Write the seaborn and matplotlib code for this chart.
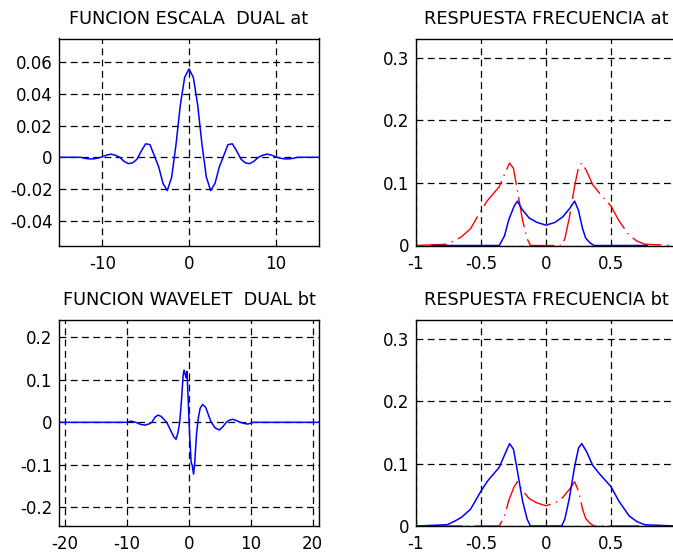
import matplotlib
matplotlib.use("Agg")
import matplotlib.pyplot as plt
import pandas as pd
import seaborn as sns

# Dual scaling function samples
scale_t = [-15, -12.5, -12, -11.5, -11, -10.5, -10, -9.5, -9, -8.5, -8, -7.5, -7, -6.5, -6,
           -5.5, -5, -4.5, -4, -3.5, -3, -2.5, -2, -1.5, -1, -0.5, 0, 0.5, 1, 1.5, 2, 2.5,
           3, 3.5, 4, 4.5, 5, 5.5, 6, 6.5, 7, 7.5, 8, 8.5, 9, 9.5, 10, 10.5, 11, 11.5, 12,
           12.5, 15]
scale_v = [0, 0, -0.0007, -0.001, -0.001, -0.0005, 0.0003, 0.0014, 0.002, 0.0013, 0.0,
           -0.0025, -0.004, -0.0035, -0.0012, 0.004, 0.0085, 0.008, 0.001, -0.006, -0.0165,
           -0.021, -0.0125, 0.008, 0.033, 0.0505, 0.0558, 0.0505, 0.033, 0.008, -0.0125,
           -0.021, -0.0165, -0.006, 0.001, 0.008, 0.0085, 0.004, -0.0012, -0.0035, -0.004,
           -0.0025, 0.0, 0.0013, 0.002, 0.0014, 0.0003, -0.0005, -0.001, -0.001, -0.0007,
           0, 0]

# Dual wavelet samples
wave_t = [-21, -10, -9.4, -8.6, -7.8, -7.1, -6.5, -6.0, -5.5, -5.0, -4.5, -4.0, -3.6, -3.0,
          -2.5, -2.1, -1.8, -1.5, -1.2, -0.95, -0.8, -0.6, -0.45, -0.33, -0.15, 0.1, 0.35,
          0.5, 0.74, 0.95, 1.2, 1.5, 1.8, 2.2, 2.7, 3.2, 3.6, 4.2, 4.9, 5.5, 6.0, 6.5, 7.07,
          7.7, 8.3, 9.0, 9.5, 10.0, 10.3, 21]
wave_v = [0, 0, 0.003, 0.0, -0.005, -0.0065, -0.004, 0.0, 0.012, 0.017, 0.014, 0.006, 0.0,
          -0.018, -0.033, -0.04, -0.025, 0.0, 0.055, 0.11, 0.123, 0.112, 0.105, 0.12, 0.06,
          -0.03, -0.095, -0.1, -0.122, -0.09, -0.03, 0.01, 0.033, 0.042, 0.035, 0.015, 0.0,
          -0.013, -0.018, -0.01, 0.0, 0.005, 0.007, 0.004, 0.0, -0.003, -0.004, -0.002, 0,
          0]

# Magnitude spectrum of at
spec_at_f = [-0.88, -0.36, -0.32, -0.285, -0.245, -0.22, -0.185, -0.13, -0.07, 0, 0.07,
             0.13, 0.185, 0.22, 0.25, 0.28, 0.305, 0.34, 0.37, 0.78]
spec_at_m = [0, 0, 0.015, 0.042, 0.063, 0.071, 0.058, 0.044, 0.037, 0.0325, 0.037, 0.046,
             0.06, 0.071, 0.056, 0.028, 0.012, 0.004, 0, 0]

# Magnitude spectrum of bt
spec_bt_f = [-1.0, -0.76, -0.7, -0.65, -0.58, -0.5, -0.45, -0.36, -0.31, -0.28, -0.25,
             -0.22, -0.18, -0.145, -0.12, 0.12, 0.145, 0.18, 0.22, 0.25, 0.275, 0.31, 0.36,
             0.41, 0.5, 0.56, 0.64, 0.7, 0.76, 1.0]
spec_bt_m = [0, 0.002, 0.008, 0.014, 0.027, 0.056, 0.072, 0.094, 0.118, 0.132, 0.123, 0.088,
             0.04, 0.011, 0, 0, 0.011, 0.045, 0.095, 0.125, 0.132, 0.12, 0.097, 0.084, 0.063,
             0.04, 0.016, 0.007, 0.002, 0]

titles = ["FUNCION ESCALA  DUAL at", "RESPUESTA FRECUENCIA at",
          "FUNCION WAVELET  DUAL bt", "RESPUESTA FRECUENCIA bt"]

scale_xticks = [-10, 0, 10]
scale_yticks = [-0.04, -0.02, 0, 0.02, 0.04, 0.06]
scale_yticklabels = ["-0.04", "-0.02", "0", "0.02", "0.04", "0.06"]
wave_xticks = [-20, -10, 0, 10, 20]
wave_yticks = [-0.2, -0.1, 0, 0.1, 0.2]
wave_yticklabels = ["-0.2", "-0.1", "0", "0.1", "0.2"]
freq_xticks = [-1, -0.5, 0, 0.5, 1]
freq_xticklabels = ["-1", "-0.5", "0", "0.5", "1"]
freq_yticks = [0, 0.1, 0.2, 0.3]
freq_yticklabels = ["0", "0.1", "0.2", "0.3"]

sns.set_style("white")
plt.rcParams["font.family"] = ["DejaVu Sans"]
plt.rcParams["axes.unicode_minus"] = False
plt.rcParams["axes.edgecolor"] = "black"
plt.rcParams["axes.linewidth"] = 1.0

W, H = 673, 552
fig = plt.figure(figsize=(W / 100, H / 100), dpi=100, facecolor="white")


def place(l, t, r, b):
    return fig.add_axes([l / W, 1 - b / H, (r - l) / W, (b - t) / H])


ax_sc = place(59, 38.5, 319, 245.5)
ax_fa = place(416, 38.5, 676, 245.5)
ax_wv = place(59, 319.5, 319, 526)
ax_fb = place(416, 319.5, 676, 526)

BLUE = "#0000ff"
RED = "#ff0000"
DASHDOT = (0, (22, 4, 1, 4))

df_sc = pd.DataFrame({"t": scale_t, "v": scale_v})
df_wv = pd.DataFrame({"t": wave_t, "v": wave_v})
df_a = pd.DataFrame({"f": spec_at_f, "m": spec_at_m})
df_b = pd.DataFrame({"f": spec_bt_f, "m": spec_bt_m})

sns.lineplot(data=df_sc, x="t", y="v", ax=ax_sc, color=BLUE, lw=1.1,
             estimator=None, sort=False)
sns.lineplot(data=df_wv, x="t", y="v", ax=ax_wv, color=BLUE, lw=1.1,
             estimator=None, sort=False)

sns.lineplot(data=df_b, x="f", y="m", ax=ax_fa, color=RED, lw=1.0,
             linestyle=DASHDOT, estimator=None, sort=False)
sns.lineplot(data=df_a, x="f", y="m", ax=ax_fa, color=BLUE, lw=1.1,
             estimator=None, sort=False)

sns.lineplot(data=df_a, x="f", y="m", ax=ax_fb, color=RED, lw=1.0,
             linestyle=DASHDOT, estimator=None, sort=False)
sns.lineplot(data=df_b, x="f", y="m", ax=ax_fb, color=BLUE, lw=1.1,
             estimator=None, sort=False)

ax_sc.set_xlim(-15, 15)
ax_sc.set_ylim(-0.0557, 0.075)
ax_sc.set_xticks(scale_xticks)
ax_sc.set_xticklabels([str(v) for v in scale_xticks])
ax_sc.set_yticks(scale_yticks)
ax_sc.set_yticklabels(scale_yticklabels)

ax_wv.set_xlim(-21, 21)
ax_wv.set_ylim(-0.244, 0.242)
ax_wv.set_xticks(wave_xticks)
ax_wv.set_xticklabels([str(v) for v in wave_xticks])
ax_wv.set_yticks(wave_yticks)
ax_wv.set_yticklabels(wave_yticklabels)

for ax in (ax_fa, ax_fb):
    ax.set_xlim(-1, 1)
    ax.set_ylim(0, 0.331)
    ax.set_xticks(freq_xticks)
    ax.set_xticklabels(freq_xticklabels)
    ax.set_yticks(freq_yticks)
    ax.set_yticklabels(freq_yticklabels)

for ax, title in zip((ax_sc, ax_fa, ax_wv, ax_fb), titles):
    ax.set_xlabel("")
    ax.set_ylabel("")
    ax.set_title(title, fontsize=12.8, pad=10.5, color="black")
    ax.set_axisbelow(True)
    ax.grid(True, color="black", linestyle=(0, (5.5, 3.5)), linewidth=0.9)
    ax.tick_params(direction="in", length=4, width=0.9, labelsize=12, colors="black")
    ax.tick_params(axis="x", pad=6.5)
    ax.tick_params(axis="y", pad=4.5)
    for s in ax.spines.values():
        s.set_color("black")
        s.set_linewidth(1.0)

fig.savefig("out.png", dpi=100, facecolor="white")
